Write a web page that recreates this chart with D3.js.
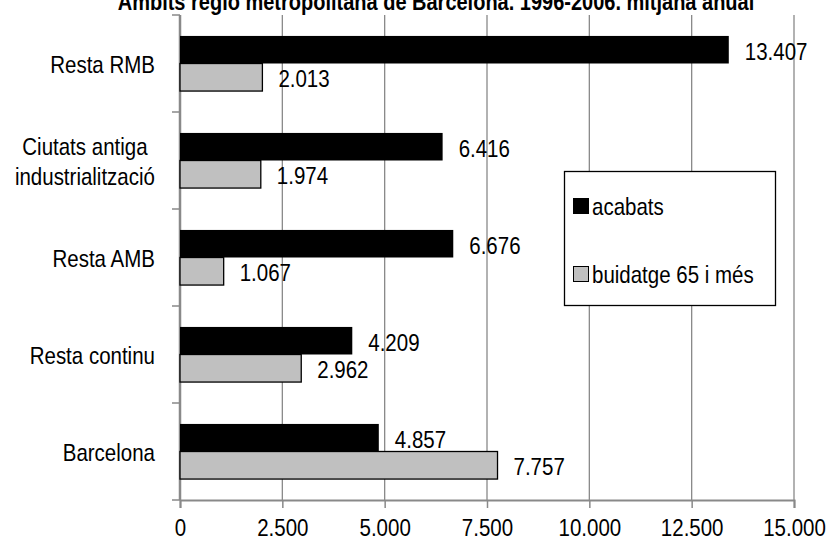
<!DOCTYPE html>
<html>
<head>
<meta charset="utf-8">
<script src="https://cdn.jsdelivr.net/npm/d3@7"></script>
<style>
  html, body { margin: 0; padding: 0; background: #fff; }
  svg { display: block; font-family: "Liberation Sans", Arial, sans-serif; }
</style>
</head>
<body>
<svg id="chart" width="826" height="545"></svg>
<script>
// Àmbits of the Barcelona metropolitan region, yearly average 1996-2006
const categories = ["Resta RMB", "Ciutats antiga industrialització", "Resta AMB", "Resta continu", "Barcelona"];
const categoryLines = [["Resta RMB"], ["Ciutats antiga", "industrialització"], ["Resta AMB"], ["Resta continu"], ["Barcelona"]];
const seriesNames = ["acabats", "buidatge 65 i més"];
const acabats = [13407, 6416, 6676, 4209, 4857];
const buidatge = [2013, 1974, 1067, 2962, 7757];
const xTicks = [0, 2500, 5000, 7500, 10000, 12500, 15000];
const titleText = "Àmbits regió metropolitana de Barcelona. 1996-2006. mitjana anual";

const seriesValues = [acabats, buidatge];
const seriesFill = ["#000000", "#c0c0c0"];
const seriesStroke = ["none", "#000000"];

const svg = d3.select("#chart");
const plotLeft = 180, plotRight = 794, plotTop = 15, plotBottom = 500;
const FS = 20.5;        // text size
const SY = 1.2;         // text is drawn slightly tall

const fmt = v => d3.format(",")(v).replace(/,/g, ".");

// place a text at (px, py) with the tall text scaling
const placeText = (sel, px, py) =>
  sel.attr("transform", (d, i) => {
    const xx = typeof px === "function" ? px(d, i) : px;
    const yy = typeof py === "function" ? py(d, i) : py;
    return `translate(${xx},${yy}) scale(1,${SY})`;
  });

const x = d3.scaleLinear().domain([0, 15000]).range([plotLeft, plotRight]);
const y = d3.scaleBand().domain(categories).range([plotTop, plotBottom]).padding(0);
const ys = d3.scaleBand().domain(seriesNames).range([0, y.bandwidth()]).paddingInner(0).paddingOuter(0.76);

const gridColor = "#898989";

// title (clipped at the top edge)
placeText(svg.append("text"), 436, 10)
  .attr("text-anchor", "middle")
  .attr("font-weight", "bold")
  .attr("font-size", 20)
  .text(titleText);

// vertical gridlines
svg.append("g").selectAll("line").data(xTicks.slice(1)).join("line")
  .attr("x1", d => x(d)).attr("x2", d => x(d))
  .attr("y1", plotTop).attr("y2", plotBottom)
  .attr("stroke", gridColor).attr("stroke-width", 1.3);

// x axis
const xAxis = d3.axisBottom(x).tickValues(xTicks).tickSize(8).tickFormat(fmt);
const gx = svg.append("g").attr("transform", `translate(0,${plotBottom})`).call(xAxis);
gx.select(".domain").attr("stroke", gridColor).attr("stroke-width", 2);
gx.selectAll(".tick line").attr("stroke", gridColor).attr("stroke-width", 1.5);
placeText(gx.selectAll(".tick text").attr("y", 0).attr("dy", "0.35em"), 0, 27)
  .attr("font-size", FS).attr("fill", "#000")
  .attr("font-family", "Liberation Sans, Arial, sans-serif");

// y axis: ticks at category boundaries
const yBounds = categories.map(c => y(c)).concat([plotBottom]);
svg.append("line")
  .attr("x1", plotLeft).attr("x2", plotLeft).attr("y1", plotTop).attr("y2", plotBottom)
  .attr("stroke", gridColor).attr("stroke-width", 2.5);
svg.append("g").selectAll("line").data(yBounds).join("line")
  .attr("x1", plotLeft - 8).attr("x2", plotLeft)
  .attr("y1", d => d).attr("y2", d => d)
  .attr("stroke", gridColor).attr("stroke-width", 1.5);

// category labels (multi-line labels are centred on each other, block right-aligned)
const labG = svg.append("g");
categories.forEach((c, i) => {
  const lines = categoryLines[i];
  const cy = y(c) + y.bandwidth() / 2 + 1;
  const lh = 30 / SY;
  const t = labG.append("text")
    .attr("font-size", FS)
    .attr("text-anchor", "middle");
  lines.forEach((ln, j) => {
    t.append("tspan")
      .attr("x", 0)
      .attr("y", (j - (lines.length - 1) / 2) * lh)
      .attr("dy", "0.35em")
      .text(ln);
  });
  const w = d3.max(t.selectAll("tspan").nodes(), n => n.getComputedTextLength());
  placeText(t, 155 - w / 2, cy);
});

// bars and value labels
seriesNames.forEach((s, si) => {
  const g = svg.append("g");
  g.selectAll("rect").data(categories).join("rect")
    .attr("x", x(0))
    .attr("y", (c) => y(c) + ys(s))
    .attr("width", (c, i) => x(seriesValues[si][i]) - x(0))
    .attr("height", ys.bandwidth())
    .attr("fill", seriesFill[si])
    .attr("stroke", seriesStroke[si])
    .attr("stroke-width", 1.3);
  placeText(
    g.selectAll("text").data(categories).join("text"),
    (c, i) => x(seriesValues[si][i]) + 16,
    c => y(c) + ys(s) + ys.bandwidth() / 2 + 1.5)
    .attr("dy", "0.35em")
    .attr("font-size", FS)
    .text((c, i) => fmt(seriesValues[si][i]));
});

// legend
const lg = svg.append("g");
lg.append("rect")
  .attr("x", 564.5).attr("y", 171.5).attr("width", 211).attr("height", 134)
  .attr("fill", "#fff").attr("stroke", "#000").attr("stroke-width", 1.3);
const legendY = [206, 274];
seriesNames.forEach((s, i) => {
  lg.append("rect")
    .attr("x", 573.5).attr("y", legendY[i] - 7.5).attr("width", 15).attr("height", 15)
    .attr("fill", seriesFill[i])
    .attr("stroke", i === 0 ? seriesFill[i] : "#000").attr("stroke-width", 1);
  placeText(lg.append("text"), 592, legendY[i])
    .attr("dy", "0.35em")
    .attr("font-size", FS)
    .text(s);
});
</script>
</body>
</html>
